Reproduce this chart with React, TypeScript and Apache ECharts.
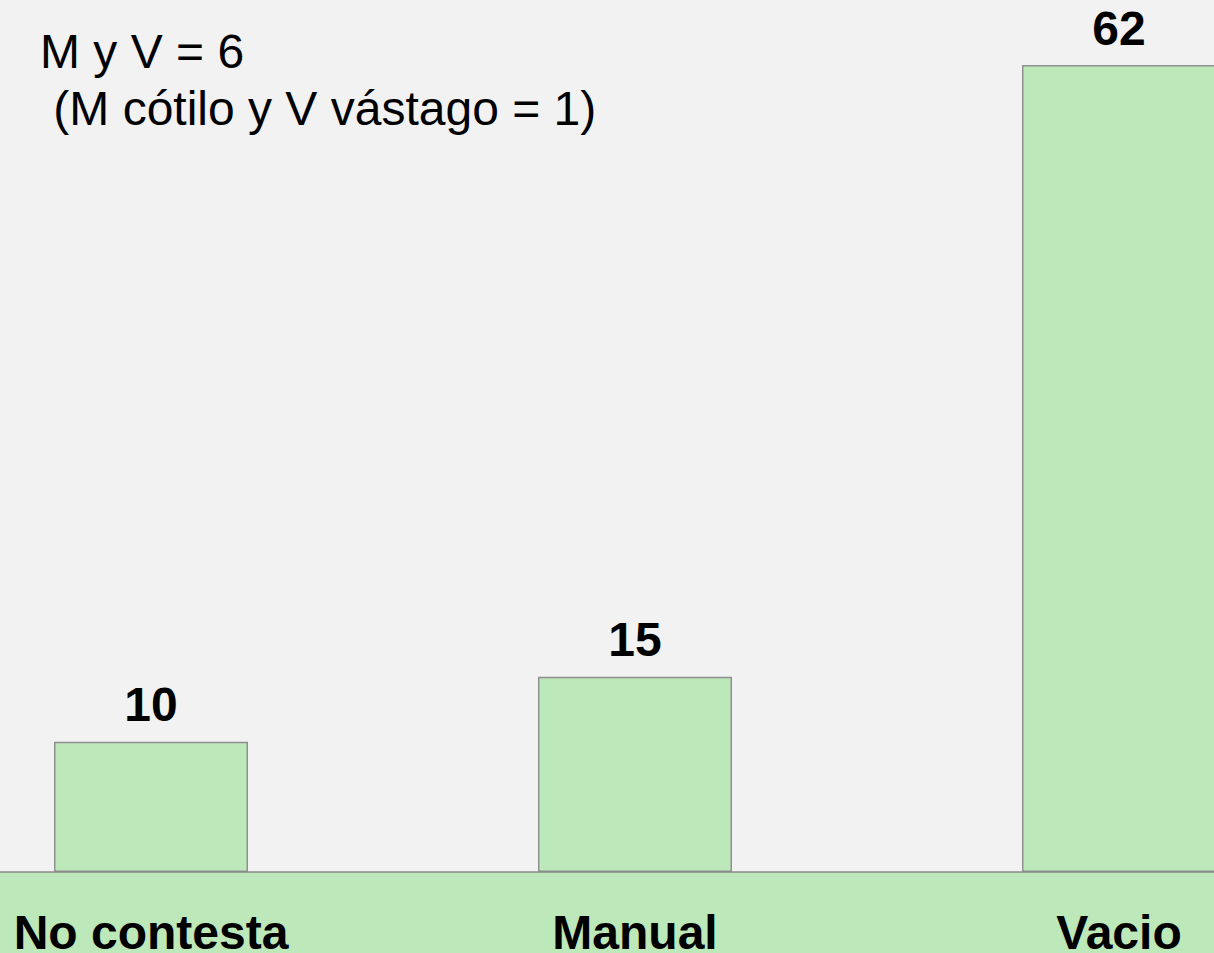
import React, { useEffect, useRef } from "react";
import * as echarts from "echarts";

const categories = ["No contesta", "Manual", "Vacio"];
const values = [10, 15, 62];
const noteLines = ["M y V = 6", " (M cótilo y V vástago = 1)"];

export default function App() {
  const ref = useRef<HTMLDivElement>(null);
  useEffect(() => {
    document.body.style.margin = "0";
    const chart = echarts.init(ref.current!, null, { renderer: "svg" });
    chart.setOption({
      animation: false,
      backgroundColor: "#f2f2f2",
      textStyle: { fontFamily: "Liberation Sans, Arial, sans-serif" },
      grid: {
        left: -91,
        right: -147,
        top: 0,
        bottom: 81,
        containLabel: false,
        outerBoundsMode: "none",
      },
      xAxis: {
        type: "category",
        data: categories,
        boundaryGap: true,
        axisTick: { show: false },
        axisLine: { show: true, lineStyle: { color: "#8a8a8a", width: 1.5 } },
        axisLabel: {
          margin: 36,
          fontSize: 48,
          fontWeight: "bold",
          color: "#000",
          fontFamily: "Liberation Sans, Arial, sans-serif",
        },
        z: 10,
      },
      yAxis: {
        type: "value",
        min: 0,
        max: 67,
        show: false,
        splitLine: { show: false },
      },
      graphic: [
        {
          type: "rect",
          left: 0,
          bottom: 0,
          shape: { width: 1214, height: 81 },
          style: { fill: "#bde8b9" },
          z: -1,
          silent: true,
        },
        {
          type: "text",
          left: 40,
          top: 23,
          style: {
            text: noteLines.join("\n"),
            fontSize: 48,
            lineHeight: 57,
            fill: "#000",
            fontFamily: "Liberation Sans, Arial, sans-serif",
          },
        },
      ],
      series: [
        {
          type: "bar",
          data: values,
          barWidth: 194,
          itemStyle: { color: "#bde8b9", borderColor: "#8f8f8f", borderWidth: 1.5 },
          label: {
            show: true,
            position: "top",
            distance: 13,
            fontSize: 48,
            fontWeight: "bold",
            color: "#000",
            fontFamily: "Liberation Sans, Arial, sans-serif",
          },
        },
      ],
    });
    return () => chart.dispose();
  }, []);
  return (
    <div
      ref={ref}
      style={{ position: "fixed", left: 0, top: 0, width: 1214, height: 953 }}
    />
  );
}
